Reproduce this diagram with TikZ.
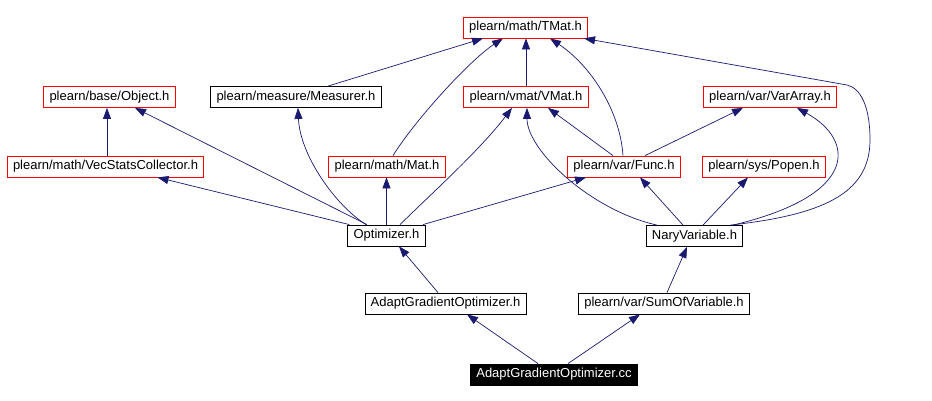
\documentclass[tikz,border=0pt]{standalone}
\usepackage{fontspec}
\setmainfont{Liberation Sans}
\usetikzlibrary{arrows.meta}
\definecolor{edge}{HTML}{191970}
\definecolor{miss}{HTML}{FF0000}

\begin{document}
\begin{tikzpicture}[x=1pt,y=-1pt,
  file/.style={draw=black, line width=0.8pt, fill=white, minimum height=21pt, inner xsep=5.8pt, inner ysep=0pt, font=\fontsize{13}{14}\selectfont},
  ext/.style={file, draw=miss},
  self/.style={file, fill=black, text=white},
  dep/.style={draw=edge, line width=0.7pt, -{Triangle[length=11pt,width=8pt]}}]
\useasboundingbox (0,0) rectangle (932,401);

% headers
\node[ext]  (tmat)     at (525.5,27.5)  {plearn/math/TMat.h};
\node[ext]  (object)   at (109.5,97)    {plearn/base/Object.h};
\node[file] (measurer) at (296,97)      {plearn/measure/Measurer.h};
\node[ext]  (vmat)     at (526,97)      {plearn/vmat/VMat.h};
\node[ext]  (vararray) at (770,97)      {plearn/var/VarArray.h};
\node[ext]  (vecstats) at (105.5,166.5) {plearn/math/VecStatsCollector.h};
\node[ext]  (mat)      at (387,166.5)   {plearn/math/Mat.h};
\node[ext]  (func)     at (624,166.5)   {plearn/var/Func.h};
\node[ext]  (popen)    at (764,166.5)   {plearn/sys/Popen.h};
\node[file] (optim)    at (386.5,235.5) {Optimizer.h};
\node[file] (nary)     at (694.5,236)   {NaryVariable.h};
\node[file] (agoh)     at (445.5,303.5) {AdaptGradientOptimizer.h};
\node[file] (sumof)    at (664,303.5)   {plearn/var/SumOfVariable.h};
\node[self] (agocc)    at (554,374.5)   {AdaptGradientOptimizer.cc};

% includes
\draw[dep] ([xshift=32pt]measurer.north) -- ([xshift=-42.5pt]tmat.south);
\draw[dep] ([xshift=6pt]mat.north) .. controls (415,120) and (470,60) .. ([xshift=-22.5pt]tmat.south);
\draw[dep] (vmat.north) -- (vmat.north |- tmat.south);
\draw[dep] ([xshift=-1pt]func.north) .. controls (620,110) and (590,65) .. ([xshift=24.5pt]tmat.south);
\draw[dep] ([xshift=36pt]nary.north) .. controls (820,215) and (870,195) .. (870,140)
  .. controls (870,105) and (860,88) .. (847,85) -- ([xshift=-4pt]tmat.south east);

\draw[dep] ([xshift=1.5pt]vecstats.north) -- ([xshift=-2.5pt]object.south);
\draw[dep] ([xshift=-19.5pt]optim.north) -- ([xshift=25.5pt]object.south);
\draw[dep] ([xshift=-20.5pt]optim.north) .. controls (335,205) and (300,155) .. ([xshift=2pt]measurer.south);
\draw[dep] ([xshift=2pt]optim.north west) -- ([xshift=52pt]vecstats.south);
\draw[dep] (optim.north) -- (optim.north |- mat.south);
\draw[dep] ([xshift=13.5pt]optim.north) .. controls (430,195) and (480,150) .. ([xshift=-14pt]vmat.south);
\draw[dep] ([xshift=36.5pt]optim.north) -- ([xshift=-38pt]func.south);

\draw[dep] ([xshift=-37.5pt]nary.north) .. controls (590,210) and (527,150) .. ([xshift=1pt]vmat.south);
\draw[dep] ([xshift=-11pt]func.north) -- ([xshift=22pt]vmat.south);
\draw[dep] ([xshift=21pt]func.north) -- ([xshift=-27pt]vararray.south);
\draw[dep] ([xshift=38.5pt]nary.north) .. controls (860,195) and (855,140) .. ([xshift=27pt]vararray.south);
\draw[dep] ([xshift=-11.5pt]nary.north) -- ([xshift=16pt]func.south);
\draw[dep] ([xshift=8.5pt]nary.north) -- ([xshift=-16pt]popen.south);

\draw[dep] ([xshift=-7.5pt]agoh.north) -- ([xshift=12.5pt]optim.south);
\draw[dep] ([xshift=3pt]sumof.north) -- ([xshift=-7.5pt]nary.south);
\draw[dep] ([xshift=-16pt]agocc.north) -- ([xshift=21.5pt]agoh.south);
\draw[dep] ([xshift=14pt]agocc.north) -- ([xshift=-24pt]sumof.south);
\end{tikzpicture}
\end{document}
